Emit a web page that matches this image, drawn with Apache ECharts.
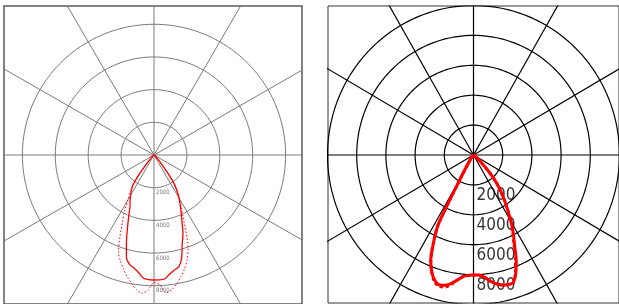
<!DOCTYPE html>
<html><head><meta charset="utf-8">
<script src="https://cdn.jsdelivr.net/npm/echarts@6/dist/echarts.min.js"></script>
<style>html,body{margin:0;padding:0;background:#fff}#c{width:619px;height:304px}</style>
</head><body><div id="c"></div>
<script>
// ---- data (angle in degrees from nadir, + to the right; intensity in cd) ----
const angles = [-90,-60,-50,-45,-42.5,-40,-37.5,-35,-32.5,-30,-27.5,-25,-22.5,-20,-17.5,-15,-12.5,-10,-7.5,-5,-2.5,0,2.5,5,7.5,10,12.5,15,17.5,20,22.5,25,27.5,30,32.5,35,37.5,40,42.5,45,50,60,90];
const leftSolid  = [0,50,100,200,350,700,1400,2200,2550,2850,3150,3450,4000,4700,5570,6480,6850,7020,7250,7560,7640,7650,7650,7600,7350,7150,7000,6500,5700,5150,4450,3900,3450,3050,2600,2100,1300,650,350,200,100,50,0];
const leftDotted = [0,50,100,200,350,800,1500,2250,2650,3150,3900,4550,5400,6320,6800,7200,7600,7950,8300,8490,8280,7800,7950,8480,8300,8000,7600,7200,6700,6050,5100,4150,3550,3100,2600,2100,1300,700,350,200,100,50,0];
const rightSolid = [0,20,50,80,100,130,200,350,700,1600,5200,6500,7650,8350,8800,9000,8920,8720,8430,8170,8060,8030,8030,8180,8480,8740,8900,8980,8970,8450,7650,6650,5900,5150,4350,3700,3100,2500,1800,1000,350,50,0];
const rightDotted= [0,20,50,80,100,130,200,350,700,1600,5200,6500,7650,8350,8900,9100,9050,8800,8430,8170,8060,8030,8030,8180,8480,8740,8900,8980,8970,8400,7500,6550,5800,5150,4350,3700,3100,2500,1800,1000,350,50,0];
const leftRings  = [2000,4000,6000,8000];
const rightRings = [2000,4000,6000,8000,10000];
const leftTickLabels  = ['2000','4000','6000','8000'];
const rightTickLabels = ['2000','4000','6000','8000'];
const spokeAngles = [0,30,60,90,120,150,180,210,240,270,300,330];

// ---- layout ----
const panels = [
  {left:4, top:6, width:298, height:300, cx:154, cy:156, pxPer2000:32.9,
   gridColor:'#7a7a7a', gridWidth:1, border:'#5a5a5a', borderW:1.5,
   rings:leftRings, labels:leftTickLabels, labelFont:6, labelColor:'#555', labelOff:[2,2],
   curves:[{d:leftSolid, w:1.3, type:'solid'},{d:leftDotted, w:1, type:[1.5,2]}]},
  {left:328, top:6, width:298, height:297, cx:477, cy:155, pxPer2000:29.9,
   gridColor:'#000', gridWidth:1.2, border:'#333', borderW:1,
   rings:rightRings, labels:rightTickLabels, labelFont:17, labelColor:'#000', labelOff:[3,2],
   curves:[{d:rightSolid, w:3, type:'solid'},{d:rightDotted, w:3, type:[3,3]}]}
];

function toXY(theta, r){ const a = theta*Math.PI/180; return [r*Math.sin(a), -r*Math.cos(a)]; }

const grid=[], xAxis=[], yAxis=[], series=[];
panels.forEach((p,i)=>{
  const upp = 2000/p.pxPer2000;
  grid.push({left:p.left, top:p.top, width:p.width, height:p.height, show:true,
    borderColor:p.border, borderWidth:p.borderW, backgroundColor:'transparent', containLabel:false});
  xAxis.push({type:'value', gridIndex:i, min:-(p.cx-p.left)*upp, max:(p.left+p.width-p.cx)*upp,
    show:false, splitLine:{show:false}});
  yAxis.push({type:'value', gridIndex:i, min:-(p.top+p.height-p.cy)*upp, max:(p.cy-p.top)*upp,
    show:false, splitLine:{show:false}});
  const common = {type:'line', xAxisIndex:i, yAxisIndex:i, showSymbol:false, symbol:'none',
    silent:true, animation:false, clip:true};
  p.rings.forEach(v=>{
    const pts=[]; for(let a=0;a<=360;a+=2) pts.push(toXY(a,v));
    series.push(Object.assign({}, common, {data:pts, z:1, lineStyle:{color:p.gridColor, width:p.gridWidth}}));
  });
  spokeAngles.forEach(a=>{
    series.push(Object.assign({}, common, {data:[[0,0], toXY(a, 40000)], z:1,
      lineStyle:{color:p.gridColor, width:p.gridWidth}}));
  });
  series.push({type:'scatter', xAxisIndex:i, yAxisIndex:i, symbolSize:0, silent:true, animation:false, z:2,
    data:p.labels.map((t,k)=>({value:[0,-p.rings[k]], name:t})),
    label:{show:true, formatter:'{b}', position:p.labelOff, align:'left', verticalAlign:'top',
      fontFamily:'"Liberation Sans Narrow","DejaVu Sans Condensed","Liberation Sans",sans-serif',
      fontSize:p.labelFont, color:p.labelColor}});
  p.curves.forEach(c=>{
    series.push(Object.assign({}, common, {z:3, smooth:0.25,
      data:angles.map((a,k)=>toXY(a, c.d[k])),
      lineStyle:{color:'#ff0000', width:c.w, type:c.type}}));
  });
});

const chart = echarts.init(document.getElementById('c'), null, {renderer:'canvas'});
chart.setOption({animation:false, backgroundColor:'#fff', grid, xAxis, yAxis, series});
</script></body></html>
